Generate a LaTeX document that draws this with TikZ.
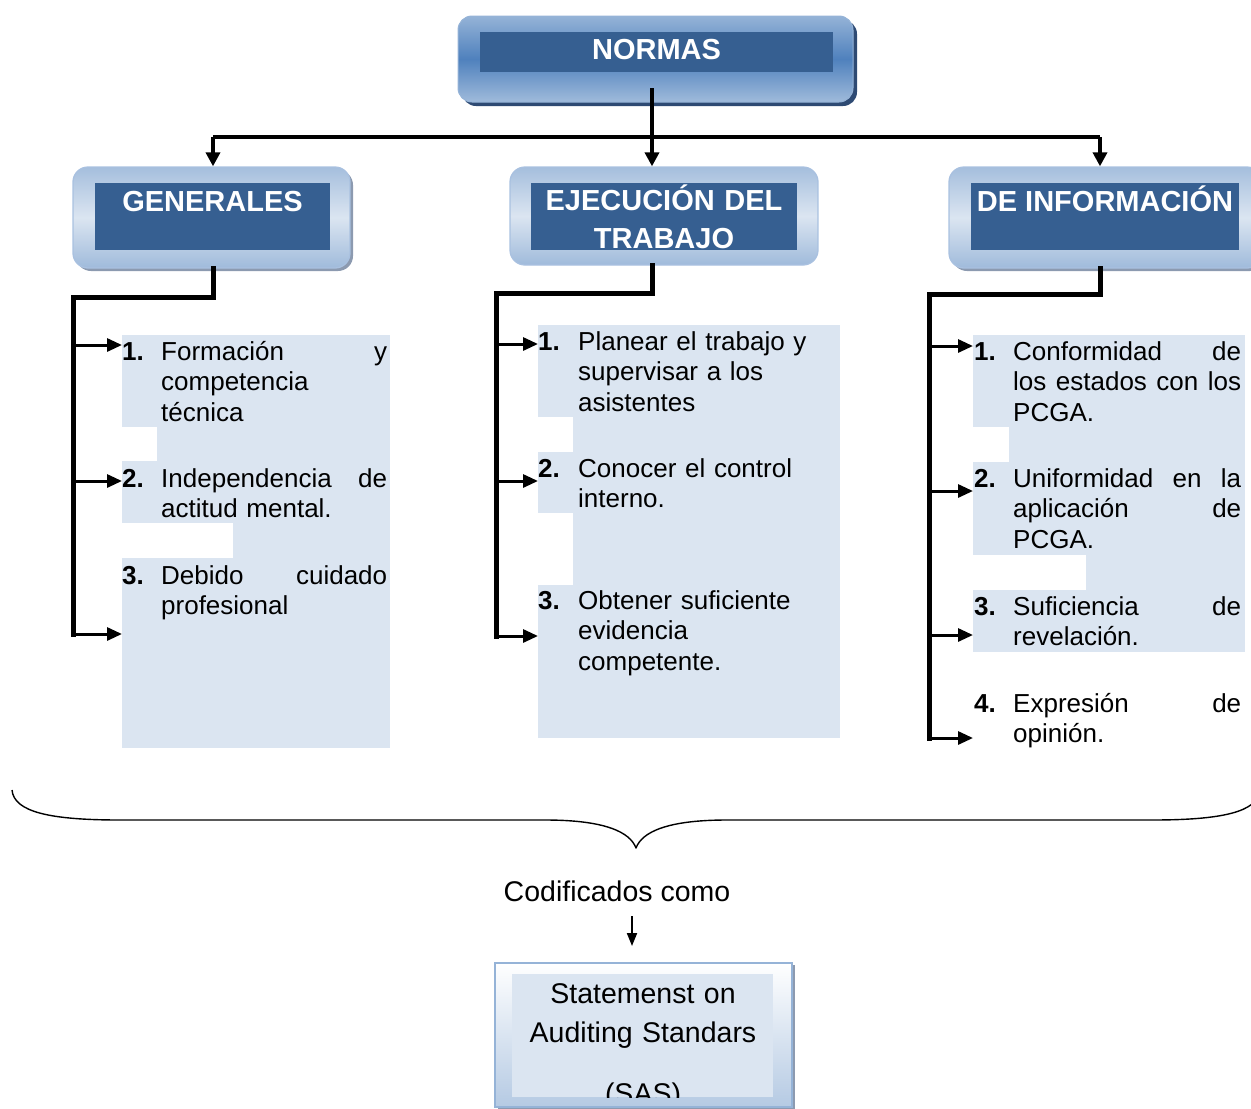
\documentclass[tikz,border=0pt]{standalone}
\usepackage{fontspec}
\setmainfont{Liberation Sans}
\usetikzlibrary{arrows.meta,calc,shadows}
\definecolor{darkbox}{HTML}{365F91}
\definecolor{lightfill}{HTML}{DBE5F1}
\definecolor{midblue}{HTML}{4F81BD}
\definecolor{paleblue}{HTML}{95B3D7}
\definecolor{edgeblue}{HTML}{A9C1E0}
\definecolor{shadowblue}{HTML}{2E4A73}
\definecolor{shadowgray}{HTML}{8C9AB0}
\tikzset{
  normasouter/.style={rounded corners=14pt, draw=paleblue, line width=1pt,
    top color=paleblue, bottom color=paleblue!90!white, middle color=midblue,
    drop shadow={shadow xshift=4pt, shadow yshift=-4pt, fill=shadowblue, opacity=1},
    inner sep=0pt},
  lvlouter/.style={rounded corners=15pt, draw=edgeblue, line width=1.3pt,
    top color=paleblue!85!white, bottom color=paleblue!90!white, middle color=lightfill,
    inner sep=0pt},
  withshadow/.style={drop shadow={shadow xshift=3pt, shadow yshift=-3pt, fill=shadowgray, opacity=1}},
  hdrbox/.style={fill=darkbox, inner sep=0pt},
  hdrtext/.style={text=white, font=\fontsize{29}{38.5}\selectfont\bfseries, inner sep=0pt, align=center},
  trunk/.style={line width=5pt, line cap=rect},
  toparrow/.style={line width=4.5pt, -{Triangle[length=14pt,width=14pt]}},
  branch/.style={line width=3pt, -{Triangle[length=15pt,width=13pt]}},
  num/.style={font=\fontsize{26}{30.7}\selectfont\bfseries, inner sep=0pt, anchor=base west},
  itemtext/.style={font=\fontsize{26}{30.7}\selectfont, inner sep=0pt, anchor=base west, align=left},
  sasouter/.style={draw=paleblue, line width=1.5pt, top color=white, bottom color=paleblue!70!white,
    drop shadow={shadow xshift=3pt, shadow yshift=-2pt, fill=shadowgray, opacity=1}, inner sep=0pt},
  plaintext/.style={font=\fontsize{28.5}{39}\selectfont, inner sep=0pt, align=center},
}
\begin{document}
\begin{tikzpicture}[x=1pt,y=-1pt]
\useasboundingbox (0,0) rectangle (1251,1109);

% ---------- light text panels ----------
\fill[lightfill] (122,335) rectangle (390,748);
\fill[white] (122,427) rectangle (157,461);
\fill[white] (122,523) rectangle (233,558);
\fill[lightfill] (538,325) rectangle (840,738);
\fill[white] (538,417) rectangle (573,452);
\fill[white] (538,513) rectangle (573,585);
\fill[lightfill] (973,335) rectangle (1245,652);
\fill[white] (973,427) rectangle (1009,462);
\fill[white] (973,555) rectangle (1086,590);

% ---------- NORMAS ----------
\node[normasouter, minimum width=395pt, minimum height=86pt] (normasbox) at (655.5,59) {};
\node[hdrbox, minimum width=353pt, minimum height=40pt] (normasin) at (656.5,52) {};
\node[hdrtext, anchor=base] (normastxt) at (656.5,59) {NORMAS};

% ---------- level 2 boxes ----------
\node[lvlouter, withshadow, minimum width=277pt, minimum height=101pt] (genbox) at (211.5,217.5) {};
\node[hdrbox, minimum width=235pt, minimum height=67pt] (genin) at (212.5,216.5) {};
\node[hdrtext, anchor=base] (gentxt) at (212.5,211) {GENERALES};

\node[lvlouter, minimum width=308pt, minimum height=98pt] (ejebox) at (664,216) {};
\node[hdrbox, minimum width=266pt, minimum height=67pt] (ejein) at (664,216.5) {};
\node[hdrtext, anchor=base, text width=266pt] (ejetxt) at (664,210) {EJECUCIÓN DEL\\TRABAJO};

\node[lvlouter, withshadow, minimum width=313pt, minimum height=101pt] (deibox) at (1105.5,217.5) {};
\node[hdrbox, minimum width=268pt, minimum height=67pt] (deiin) at (1105,216.5) {};
\node[hdrtext, anchor=base] (deitxt) at (1105,211) {DE INFORMACIÓN};

% ---------- top connectors ----------
\coordinate (ntop) at (652,88);
\coordinate (aL) at (213,137);
\coordinate (aM) at (652,137);
\coordinate (aR) at (1100,137);
\draw[line width=4.5pt] (aL) -- (aR);
\draw[toparrow] (ntop) -- (ntop |- ejebox.north);
\draw[toparrow] (aL) -- (aL |- genbox.north);
\draw[toparrow] (aR) -- (aR |- deibox.north);

% ---------- left tree ----------
\coordinate (gT) at (73,297);
\coordinate (gB) at (73,634);
\draw[trunk] (aL |- genbox.south) |- (gT) -- (gB);
\coordinate (g1) at (122,345);
\coordinate (g2) at (122,481);
\coordinate (g3) at (122,634);
\draw[branch] (g1 -| gT) -- (g1);
\draw[branch] (g2 -| gT) -- (g2);
\draw[branch] (g3 -| gT) -- (g3);

\node[num] (gn1) at (122,360) {1.};
\node[itemtext, text width=226pt] (gi1) at (161,360) {Formación\hfill y\\competencia\\técnica};
\node[num] (gn2) at (122,487) {2.};
\node[itemtext, text width=226pt] (gi2) at (161,487) {Independencia\hfill de\\actitud mental.};
\node[num] (gn3) at (122,584) {3.};
\node[itemtext, text width=226pt] (gi3) at (161,584) {Debido\hfill cuidado\\profesional};

% ---------- middle tree ----------
\coordinate (mT) at (496,293);
\coordinate (mB) at (496,636);
\draw[trunk] (aM |- ejebox.south) |- (mT) -- (mB);
\coordinate (m1) at (538,344);
\coordinate (m2) at (538,481);
\coordinate (m3) at (538,636);
\draw[branch] (m1 -| mT) -- (m1);
\draw[branch] (m2 -| mT) -- (m2);
\draw[branch] (m3 -| mT) -- (m3);

\node[num] (mn1) at (538,350) {1.};
\node[itemtext, text width=262pt] (mi1) at (578,350) {Planear el trabajo y\\supervisar a los\\asistentes};
\node[num] (mn2) at (538,477) {2.};
\node[itemtext, text width=262pt] (mi2) at (578,477) {Conocer el control\\interno.};
\node[num] (mn3) at (538,609) {3.};
\node[itemtext, text width=262pt] (mi3) at (578,609) {Obtener suficiente\\evidencia\\competente.};

% ---------- right tree ----------
\coordinate (rT) at (929,294);
\coordinate (rB) at (929,738);
\draw[trunk] (aR |- deibox.south) |- (rT) -- (rB);
\coordinate (r1) at (973,346);
\coordinate (r2) at (973,491);
\coordinate (r3) at (973,635);
\coordinate (r4) at (973,738);
\draw[branch] (r1 -| rT) -- (r1);
\draw[branch] (r2 -| rT) -- (r2);
\draw[branch] (r3 -| rT) -- (r3);
\draw[branch] (r4 -| rT) -- (r4);

\node[num] (rn1) at (974,360) {1.};
\node[itemtext, text width=228pt] (ri1) at (1013,360) {Conformidad\hfill de\\los\hfill estados\hfill con\hfill los\\PCGA.};
\node[num] (rn2) at (974,487) {2.};
\node[itemtext, text width=228pt] (ri2) at (1013,487) {Uniformidad\hfill en\hfill la\\aplicación\hfill de\\PCGA.};
\node[num] (rn3) at (974,615) {3.};
\node[itemtext, text width=228pt] (ri3) at (1013,615) {Suficiencia\hfill de\\revelación.};
\node[num] (rn4) at (974,712) {4.};
\node[itemtext, text width=228pt] (ri4) at (1013,712) {Expresión\hfill de\\opinión.};

% ---------- brace ----------
\draw[line width=1.4pt, line join=round]
  (12,790) .. controls (14,812) and (50,820) .. (120,820)
  -- (545,820) .. controls (605,820) and (630,832) .. (636,848)
  .. controls (642,832) and (667,820) .. (727,820)
  -- (1152,820) .. controls (1222,820) and (1258,812) .. (1260,790);

% ---------- bottom ----------
\node[plaintext, anchor=base] (cod) at (617,901) {Codificados como};
\coordinate (cA) at (632,916);
\coordinate (cB) at (632,946);
\draw[line width=2pt, -{Triangle[length=13pt,width=10pt]}] (cA) -- (cB);

\node[sasouter, minimum width=297pt, minimum height=144pt] (sasbox) at (643.5,1035) {};
\node[fill=lightfill, inner sep=0pt, minimum width=261pt, minimum height=123pt] (sasin) at (642.5,1035.5) {};
\begin{scope}
  \clip (sasin.north west) rectangle (sasin.south east);
  \node[plaintext, anchor=base, text width=261pt] (sastxt) at (643,1003) {Statemenst on\\Auditing Standars\\[22pt](SAS)};
\end{scope}
\end{tikzpicture}
\end{document}
